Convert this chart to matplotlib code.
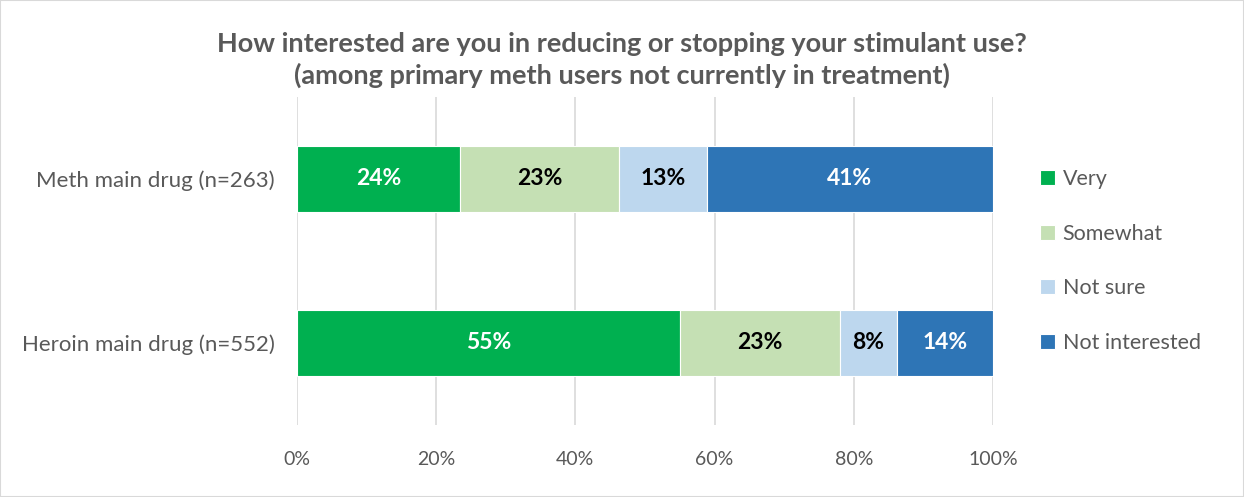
import numpy as np
from matplotlib import pyplot as plt
from matplotlib.patches import Rectangle

plt.rcParams['font.family'] = ['Lato', 'DejaVu Sans']

groups = ['Heroin main drug (n=552)', 'Meth main drug (n=263)']
series = ['Very', 'Somewhat', 'Not sure', 'Not interested']
very = [55.0, 23.4]
somewhat = [23.0, 22.9]
not_sure = [8.2, 12.6]
not_interested = [13.8, 41.1]
labels_very = ['55%', '24%']
labels_somewhat = ['23%', '23%']
labels_not_sure = ['8%', '13%']
labels_not_interested = ['14%', '41%']

colors = ['#00B050', '#C5E0B4', '#BDD7EE', '#2E75B6']
text_colors = ['white', 'black', 'black', 'white']

fig = plt.figure(figsize=(12.44, 4.97), dpi=100)
fig.patches.append(Rectangle((0, 0), 1, 1, transform=fig.transFigure, fill=False,
                             edgecolor='#d9d9d9', linewidth=1.5))
ax = fig.add_axes([0.2387, 0.1449, 0.5595, 0.66])

y = np.arange(len(groups))
left = np.zeros(len(groups))
for vals, labs, name, c, tc in zip([very, somewhat, not_sure, not_interested],
                                   [labels_very, labels_somewhat, labels_not_sure, labels_not_interested],
                                   series, colors, text_colors):
    vals = np.array(vals)
    ax.barh(y, vals, left=left, height=0.4, color=c, label=name,
            edgecolor='white', linewidth=0.8, zorder=3)
    for yi, l, v, t in zip(y, left, vals, labs):
        ax.text(l + v / 2, yi, t, ha='center', va='center', color=tc,
                fontsize=16.5, fontweight='bold', zorder=4)
    left = left + vals

ax.set_xlim(0, 100)
ax.set_ylim(-0.5, 1.5)
ax.set_xticks(np.arange(0, 101, 20))
ax.set_xticklabels([f'{t}%' for t in range(0, 101, 20)])
ax.set_yticks(y)
ax.set_yticklabels(groups)
ax.tick_params(axis='both', length=0, colors='#595959')
ax.tick_params(axis='x', labelsize=14, pad=19)
ax.tick_params(axis='y', labelsize=16, pad=16)
ax.grid(axis='x', color='#d9d9d9', linewidth=1.2, zorder=0)
for s in ax.spines.values():
    s.set_visible(False)

fig.text(0.5, 0.879, 'How interested are you in reducing or stopping your stimulant use?\n'
         '(among primary meth users not currently in treatment)',
         ha='center', va='center', fontsize=19.5, fontweight='bold', color='#595959',
         linespacing=1.3)

ax.legend(loc='center left', bbox_to_anchor=(1.04, 0.5), frameon=False,
          fontsize=15.5, labelcolor='#595959', handlelength=0.7, handleheight=0.7,
          handletextpad=0.35, labelspacing=1.6)

fig.savefig('out.png', dpi=100)
